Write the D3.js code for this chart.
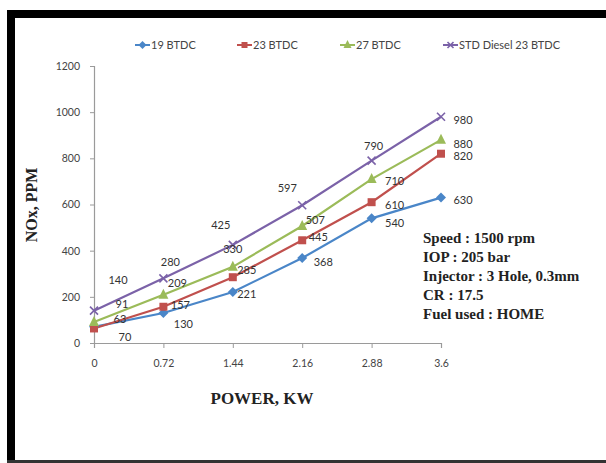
<!DOCTYPE html>
<html>
<head>
<meta charset="utf-8">
<script src="https://cdn.jsdelivr.net/npm/d3@7"></script>
<style>
  body { margin: 0; background: #fff; }
  svg { display: block; }
</style>
</head>
<body>
<svg id="chart" width="606" height="463"></svg>
<script>
// chart values
const power = [0, 0.72, 1.44, 2.16, 2.88, 3.6];
const btdc19 = [70, 130, 221, 368, 540, 630];
const btdc23 = [63, 157, 285, 445, 610, 820];
const btdc27 = [91, 209, 330, 507, 710, 880];
const stdDiesel = [140, 280, 425, 597, 790, 980];
const seriesNames = ["19 BTDC", "23 BTDC", "27 BTDC", "STD Diesel 23 BTDC"];
const yTicks = [0, 200, 400, 600, 800, 1000, 1200];
const xTickLabels = ["0", "0.72", "1.44", "2.16", "2.88", "3.6"];
const notes = ["Speed : 1500 rpm", "IOP : 205 bar", "Injector : 3 Hole, 0.3mm", "CR : 17.5", "Fuel used : HOME"];

const series = [
  { name: seriesNames[0], values: btdc19, color: "#4a86c8", mark: "diamond" },
  { name: seriesNames[1], values: btdc23, color: "#c0504d", mark: "square" },
  { name: seriesNames[2], values: btdc27, color: "#9bbb59", mark: "triangle" },
  { name: seriesNames[3], values: stdDiesel, color: "#7b62a8", mark: "cross" }
];

const svg = d3.select("#chart");

// frame
svg.append("rect").attr("x", 7).attr("y", 10).attr("width", 599).attr("height", 8).attr("fill", "#000");
svg.append("rect").attr("x", 7).attr("y", 10).attr("width", 8).attr("height", 453).attr("fill", "#000");
svg.append("rect").attr("x", 7).attr("y", 460).attr("width", 599).attr("height", 3).attr("fill", "#333");

const x = d3.scaleLinear().domain([0, 3.6]).range([94, 441]);
const y = d3.scaleLinear().domain([0, 1200]).range([343, 66]);

const tickFont = "Lato, 'Open Sans', sans-serif";

// axes
const yAxis = svg.append("g")
  .attr("transform", "translate(94,0)")
  .call(d3.axisLeft(y).tickValues(yTicks).tickSize(4).tickPadding(10).tickFormat(d3.format("d")));
const xAxis = svg.append("g")
  .attr("transform", "translate(0,343)")
  .call(d3.axisBottom(x).tickValues(power).tickSize(5).tickPadding(12)
    .tickFormat((d, i) => xTickLabels[i]));

[xAxis, yAxis].forEach(a => {
  a.select(".domain").attr("stroke", "#9a9a9a").attr("stroke-width", 1.2);
  a.selectAll(".tick line").attr("stroke", "#9a9a9a");
  a.selectAll(".tick text").attr("fill", "#444").attr("font-size", 10.5).attr("font-family", tickFont);
});

// axis titles
svg.append("text")
  .attr("x", 262).attr("y", 404)
  .attr("text-anchor", "middle")
  .attr("font-family", "'Liberation Serif', serif")
  .attr("font-weight", "bold").attr("font-size", 17).attr("fill", "#222")
  .text("POWER, KW");

svg.append("text")
  .attr("transform", "translate(37,205) rotate(-90)")
  .attr("text-anchor", "middle")
  .attr("font-family", "'Liberation Serif', serif")
  .attr("font-weight", "bold").attr("font-size", 16).attr("fill", "#222")
  .text("NOx, PPM");

function drawMarker(g, mark, color, size) {
  const s = size;
  if (mark === "diamond") {
    g.append("path").attr("d", `M0,${-s}L${s},0L0,${s}L${-s},0Z`).attr("fill", color);
  } else if (mark === "square") {
    g.append("rect").attr("x", -s + 1).attr("y", -s + 1).attr("width", 2 * s - 2).attr("height", 2 * s - 2).attr("fill", color);
  } else if (mark === "triangle") {
    g.append("path").attr("d", `M0,${-s - 1}L${s},${s - 1}L${-s},${s - 1}Z`).attr("fill", color);
  } else {
    g.append("path").attr("d", `M${-s + 1},${-s + 1}L${s - 1},${s - 1}M${-s + 1},${s - 1}L${s - 1},${-s + 1}`)
      .attr("stroke", color).attr("stroke-width", 1.6);
  }
}

const line = d3.line().x((d, i) => x(power[i])).y(d => y(d));

series.forEach(s => {
  svg.append("path")
    .datum(s.values)
    .attr("d", line)
    .attr("fill", "none")
    .attr("stroke", s.color)
    .attr("stroke-width", 2.2);
});

series.forEach(s => {
  s.values.forEach((v, i) => {
    const g = svg.append("g").attr("transform", `translate(${x(power[i])},${y(v)})`);
    drawMarker(g, s.mark, s.color, 5);
  });
});

// data labels: offsets from the point
const labelOffsets = [
  [[31, 10], [20, 11], [14, 2], [21, 4], [23, 5], [22, 3]],
  [[26, -9], [17, -2], [14, -7], [16, -3], [23, 3], [22, 2]],
  [[28, -18], [14, -12], [0, -18], [13, -6], [23, 2], [22, 4]],
  [[24, -31], [7, -16], [-12, -20], [-15, -17], [2, -14], [22, 3]]
];

series.forEach((s, si) => {
  s.values.forEach((v, i) => {
    const o = labelOffsets[si][i];
    svg.append("text")
      .attr("x", x(power[i]) + o[0])
      .attr("y", y(v) + o[1])
      .attr("dy", "0.35em")
      .attr("text-anchor", "middle")
      .attr("font-family", tickFont)
      .attr("font-size", 11)
      .attr("fill", "#333")
      .text(v);
  });
});

// legend
const legendX = [135, 237, 340, 443];
series.forEach((s, i) => {
  const g = svg.append("g").attr("transform", `translate(${legendX[i]},45)`);
  g.append("line").attr("x1", 0).attr("x2", 15).attr("stroke", s.color).attr("stroke-width", 2);
  const m = g.append("g").attr("transform", "translate(7.5,0)");
  drawMarker(m, s.mark, s.color, 4);
  g.append("text")
    .attr("x", 16).attr("dy", "0.35em")
    .attr("font-family", tickFont).attr("font-size", 11).attr("fill", "#444")
    .text(s.name);
});

// test conditions
svg.append("g").selectAll("text")
  .data(notes)
  .enter().append("text")
  .attr("x", 423)
  .attr("y", (d, i) => 243 + i * 19)
  .attr("font-family", "'Liberation Serif', serif")
  .attr("font-weight", "bold")
  .attr("font-size", 15)
  .attr("fill", "#222")
  .text(d => d);
</script>
</body>
</html>
